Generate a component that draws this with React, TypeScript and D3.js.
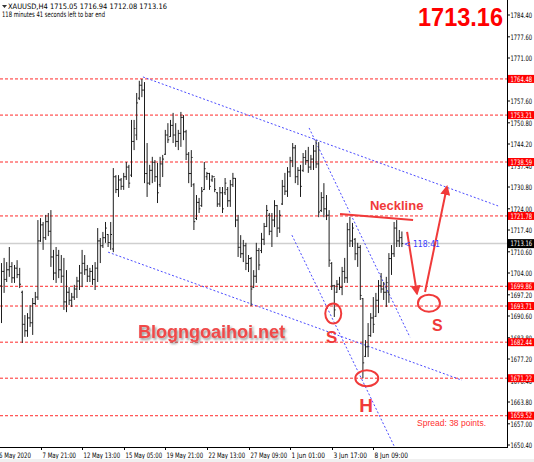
import React from "react";
import * as d3 from "d3";

// XAUUSD H4 bars, 6 May – 10 Jun 2020
const opens = [
  1700.0, 1704.5, 1702.0, 1705.0, 1706.0, 1702.5, 1705.5, 1703.5, 1698.0, 1688.0,
  1686.0, 1690.0, 1688.5, 1694.5, 1696.5, 1714.0, 1719.0, 1715.0, 1720.0, 1717.0,
  1709.0, 1704.0, 1709.5, 1705.0, 1703.0, 1695.0, 1698.0, 1695.5, 1696.5, 1699.0,
  1701.5, 1704.0, 1707.0, 1705.0, 1703.0, 1704.5, 1702.0, 1705.5, 1714.0, 1712.5,
  1715.0, 1716.0, 1713.5, 1711.5, 1734.0, 1730.0, 1733.0, 1731.0, 1734.0, 1737.0,
  1734.5, 1745.0, 1747.0, 1758.5, 1762.5, 1761.0, 1735.0, 1732.0, 1736.0, 1738.5,
  1734.0, 1731.5, 1738.0, 1741.0, 1747.0, 1746.5, 1750.0, 1747.0, 1745.0, 1747.5,
  1752.5, 1748.0, 1741.0, 1735.0, 1731.5, 1721.0, 1726.0, 1725.0, 1730.0, 1734.0,
  1735.0, 1733.0, 1734.0, 1729.0, 1725.5, 1729.0, 1729.0, 1730.0, 1726.5, 1731.5,
  1733.5, 1720.5, 1712.0, 1710.0, 1712.5, 1707.0, 1708.5, 1699.5, 1703.0, 1711.0,
  1711.0, 1714.5, 1718.5, 1722.0, 1717.0, 1720.5, 1725.0, 1718.0, 1725.5, 1731.0,
  1729.5, 1735.5, 1739.0, 1743.0, 1734.0, 1736.0, 1736.0, 1740.0, 1739.0, 1737.0,
  1739.5, 1742.0, 1738.0, 1723.5, 1727.5, 1724.0, 1722.0, 1707.0, 1700.0, 1698.0,
  1700.5, 1699.5, 1704.5, 1702.5, 1717.5, 1714.0, 1714.5, 1710.0, 1712.0, 1696.0,
  1678.0, 1681.0, 1684.5, 1690.0, 1690.5, 1695.5, 1700.0, 1699.0, 1698.0, 1698.0,
  1708.5, 1710.0, 1718.0, 1714.0, 1715.05,
];
const highs = [
  1707.1, 1708.7, 1707.4, 1712.1, 1707.4, 1706.5, 1708.0, 1705.6, 1698.5, 1690.9,
  1691.5, 1694.0, 1696.2, 1698.1, 1720.5, 1721.1, 1719.9, 1722.1, 1722.7, 1723.6,
  1711.2, 1712.1, 1711.2, 1709.6, 1708.7, 1704.9, 1699.6, 1697.8, 1700.3, 1702.8,
  1706.5, 1711.2, 1709.6, 1706.5, 1705.6, 1706.5, 1707.4, 1718.0, 1714.9, 1716.8,
  1719.9, 1716.1, 1719.9, 1736.7, 1734.5, 1734.5, 1733.6, 1735.2, 1738.6, 1737.7,
  1751.7, 1751.7, 1760.1, 1763.9, 1764.48, 1763.5, 1744.5, 1737.7, 1740.2, 1739.2,
  1738.3, 1740.2, 1740.8, 1748.6, 1750.7, 1751.7, 1753.9, 1750.7, 1748.6, 1754.2,
  1753.2, 1748.6, 1741.7, 1742.3, 1732.0, 1728.3, 1727.4, 1730.8, 1738.6, 1735.5,
  1735.2, 1734.5, 1733.6, 1729.2, 1730.8, 1730.8, 1733.6, 1730.8, 1733.0, 1735.2,
  1733.6, 1722.1, 1715.8, 1714.3, 1713.4, 1709.6, 1709.0, 1704.9, 1713.4, 1711.8,
  1716.5, 1719.6, 1725.2, 1722.7, 1722.7, 1726.7, 1725.2, 1723.6, 1733.0, 1735.2,
  1737.0, 1740.2, 1744.5, 1743.9, 1737.0, 1737.7, 1741.4, 1742.3, 1743.3, 1740.8,
  1743.9, 1745.4, 1744.8, 1729.2, 1732.0, 1728.3, 1723.6, 1707.4, 1700.3, 1701.8,
  1702.8, 1705.9, 1708.7, 1719.6, 1721.5, 1719.6, 1714.9, 1713.4, 1712.7, 1696.2,
  1683.1, 1688.4, 1691.5, 1696.5, 1697.8, 1701.8, 1704.0, 1701.2, 1702.8, 1710.2,
  1712.7, 1719.9, 1720.5, 1717.4, 1716.94,
];
const lows = [
  1688.4, 1697.8, 1701.2, 1702.8, 1700.9, 1700.9, 1702.4, 1699.3, 1682.2, 1684.1,
  1684.1, 1687.2, 1684.7, 1694.0, 1695.6, 1713.7, 1711.2, 1714.3, 1715.5, 1705.9,
  1701.8, 1700.9, 1702.4, 1700.9, 1692.5, 1691.8, 1694.0, 1693.4, 1695.6, 1696.2,
  1698.7, 1699.6, 1703.4, 1701.2, 1701.2, 1700.3, 1698.7, 1701.2, 1707.1, 1711.8,
  1713.4, 1712.1, 1711.2, 1710.5, 1728.9, 1727.7, 1729.9, 1729.9, 1733.0, 1730.5,
  1733.9, 1742.3, 1745.4, 1757.9, 1758.8, 1732.0, 1727.7, 1731.4, 1732.0, 1732.4,
  1725.8, 1730.8, 1733.9, 1740.8, 1744.5, 1746.4, 1744.5, 1743.3, 1742.3, 1743.3,
  1745.4, 1739.2, 1732.0, 1730.8, 1717.4, 1720.5, 1722.7, 1724.6, 1729.9, 1733.0,
  1729.9, 1732.4, 1729.2, 1724.6, 1724.6, 1722.7, 1728.3, 1724.6, 1724.6, 1730.8,
  1718.3, 1709.0, 1708.7, 1707.4, 1704.9, 1704.3, 1693.7, 1699.3, 1700.9, 1704.9,
  1710.2, 1712.7, 1718.3, 1715.8, 1712.1, 1718.3, 1715.2, 1716.5, 1725.2, 1728.3,
  1727.7, 1733.9, 1737.0, 1732.0, 1731.4, 1727.7, 1735.5, 1737.7, 1735.2, 1736.1,
  1736.1, 1736.7, 1721.4, 1723.0, 1721.4, 1720.5, 1705.9, 1698.7, 1690.3, 1697.8,
  1698.7, 1697.1, 1700.9, 1700.9, 1712.1, 1712.1, 1708.0, 1705.9, 1695.6, 1671.22,
  1677.8, 1677.8, 1684.1, 1685.3, 1690.3, 1691.5, 1697.8, 1695.6, 1693.4, 1694.7,
  1703.4, 1709.0, 1712.1, 1712.1, 1712.08,
];
const closes = [
  1704.5, 1702.0, 1705.0, 1706.0, 1702.5, 1705.5, 1703.5, 1700.5, 1688.0, 1686.0,
  1690.0, 1688.5, 1694.5, 1696.5, 1714.0, 1719.0, 1715.0, 1720.0, 1717.0, 1709.0,
  1704.0, 1709.5, 1705.0, 1703.0, 1695.0, 1698.0, 1695.5, 1696.5, 1699.0, 1701.5,
  1704.0, 1707.0, 1705.0, 1703.0, 1704.5, 1702.0, 1705.5, 1714.0, 1712.5, 1715.0,
  1718.0, 1713.5, 1716.0, 1734.0, 1730.0, 1733.0, 1731.0, 1734.0, 1737.0, 1732.0,
  1745.0, 1749.0, 1757.0, 1762.5, 1761.0, 1735.0, 1732.0, 1736.0, 1738.5, 1734.0,
  1729.0, 1738.0, 1739.5, 1747.0, 1745.5, 1750.0, 1747.0, 1745.0, 1747.5, 1752.5,
  1748.0, 1741.0, 1735.0, 1740.0, 1720.0, 1726.0, 1724.0, 1729.5, 1736.5, 1735.0,
  1731.0, 1734.0, 1730.0, 1725.5, 1729.0, 1724.0, 1732.0, 1726.5, 1731.5, 1733.5,
  1720.5, 1712.0, 1710.0, 1712.5, 1707.0, 1708.5, 1699.0, 1703.0, 1711.0, 1706.5,
  1714.5, 1718.5, 1723.5, 1717.0, 1720.5, 1725.0, 1718.0, 1722.0, 1731.0, 1729.5,
  1735.5, 1739.0, 1743.0, 1734.0, 1736.0, 1731.0, 1740.0, 1739.0, 1737.0, 1739.5,
  1742.0, 1738.0, 1723.0, 1727.5, 1724.0, 1722.0, 1708.0, 1700.0, 1692.5, 1700.5,
  1699.5, 1704.5, 1702.5, 1717.5, 1714.0, 1718.0, 1710.0, 1712.0, 1697.0, 1676.0,
  1681.0, 1684.5, 1690.0, 1688.0, 1695.5, 1700.0, 1699.0, 1698.0, 1701.0, 1708.5,
  1710.0, 1718.0, 1714.0, 1715.0, 1713.16,
];

// price scale ticks and horizontal levels
const priceTicks = [
  1784.4, 1777.6, 1771.0, 1764.2, 1757.6, 1750.8, 1744.2, 1737.4, 1730.8, 1724.0,
  1717.4, 1710.6, 1704.0, 1697.2, 1690.6, 1683.8, 1677.2, 1670.4, 1663.8, 1657.0, 1650.4,
];
const levels = [1764.48, 1753.21, 1738.59, 1721.78, 1699.86, 1693.71, 1682.44, 1671.22, 1659.52];
const lastPrice = 1713.16;

// time axis: bar index of each label
const timeLabels = [
  "7 May 21:00", "12 May 13:00", "15 May 05:00", "19 May 21:00", "22 May 13:00",
  "27 May 09:00", "1 Jun 01:00", "3 Jun 17:00", "8 Jun 09:00",
];
const timeLabelIdx = [15, 31, 47, 63, 79, 95, 111, 127, 143];

// trend lines as [barIndex, price] pairs
const channelLines: [number, number, number, number][] = [
  [54.4, 1765.1, 191.0, 1724.9],
  [41.0, 1710.5, 177.1, 1670.6],
  [118.3, 1749.2, 157.1, 1684.0],
  [111.7, 1715.8, 151.0, 1650.1],
];
const neckline: [number, number, number, number] = [130.2, 1722.4, 158.3, 1720.5];
const arrowsPath: [number, number, number, number][] = [
  [156.0, 1716.8, 159.8, 1697.6],
  [162.9, 1698.1, 171.3, 1730.8],
];
// pattern markers: [barIndex, price, rx, ry]
const rings: [number, number, number, number][] = [
  [127.6, 1691.4, 8, 10],
  [140.5, 1671.2, 11.5, 8],
  [164.4, 1694.6, 11, 8.5],
];
const ringLabels: [string, number, number, number][] = [
  ["S", 127.0, 1682.3, 17],
  ["H", 140.2, 1660.8, 19],
  ["S", 167.6, 1686.0, 16],
];

const W = 534;
const H = 462;
const plotRight = 507;
const plotBottom = 447;

const mt4Font = "Tahoma, 'DejaVu Sans', sans-serif";
const arial = "'Liberation Sans', Arial, sans-serif";

export default function App() {
  const n = opens.length;
  const x = d3.scaleLinear().domain([0, n - 1]).range([1.5, 1.5 + 2.6 * (n - 1)]);
  const y = d3.scaleLinear().domain([1650.4, 1784.4]).range([445, 15]);
  const fmt = d3.format(".2f");
  const red = "#f03a3a";
  // axis ticks fully hidden behind a level tag are skipped
  const visibleTicks = priceTicks.filter((v) => levels.every((l) => Math.abs(y(l) - y(v)) > 2.5));

  return (
    <svg
      width={W}
      height={H}
      style={{ position: "absolute", left: 0, top: 0, background: "#fff" }}
    >
      <defs>
        <filter id="wm" x="-10%" y="-30%" width="130%" height="180%">
          <feDropShadow dx="1.5" dy="2" stdDeviation="1.2" floodColor="#444" floodOpacity="0.55" />
        </filter>
        <marker id="ah" viewBox="0 0 10 10" refX="8" refY="5" markerWidth="5" markerHeight="5" orient="auto">
          <path d="M0,0 L10,5 L0,10 z" fill={red} />
        </marker>
      </defs>
      <rect x={0} y={0} width={W} height={H} fill="#fff" />

      {/* horizontal levels */}
      {levels.map((v) => (
        <line key={v} x1={0} x2={plotRight} y1={y(v)} y2={y(v)} stroke="#ff2a2a" strokeWidth={1} strokeDasharray="3,2" />
      ))}
      {/* last price line */}
      <line x1={0} x2={plotRight} y1={y(lastPrice)} y2={y(lastPrice)} stroke="#cfcfcf" strokeWidth={1.5} />

      {/* channel lines */}
      {channelLines.map((l, k) => (
        <line key={k} x1={x(l[0])} y1={y(l[1])} x2={x(l[2])} y2={y(l[3])} stroke="#4b4bff" strokeWidth={1} strokeDasharray="2,2" />
      ))}

      {/* OHLC bars */}
      <g stroke="#1e1e1e" strokeWidth={1}>
        {opens.map((o, i) => {
          const cx = x(i);
          return (
            <g key={i}>
              <line x1={cx} x2={cx} y1={y(highs[i])} y2={y(lows[i])} />
              <line x1={cx - 1.3} x2={cx} y1={y(o)} y2={y(o)} />
              <line x1={cx} x2={cx + 1.3} y1={y(closes[i])} y2={y(closes[i])} />
            </g>
          );
        })}
      </g>

      {/* pattern annotation */}
      <line x1={x(neckline[0])} y1={y(neckline[1])} x2={x(neckline[2])} y2={y(neckline[3])} stroke={red} strokeWidth={2} />
      <text x={x(141.7)} y={y(1723.6)} fill={red} fontFamily={arial} fontWeight="bold" fontSize={13}>
        Neckline
      </text>
      {arrowsPath.map((a, k) => (
        <line key={k} x1={x(a[0])} y1={y(a[1])} x2={x(a[2])} y2={y(a[3])} stroke={red} strokeWidth={2} markerEnd="url(#ah)" />
      ))}
      {rings.map((r, k) => (
        <ellipse key={k} cx={x(r[0])} cy={y(r[1])} rx={r[2]} ry={r[3]} fill="none" stroke={red} strokeWidth={2} />
      ))}
      {ringLabels.map((t, k) => (
        <text key={k} x={x(t[1])} y={y(t[2])} textAnchor="middle" fill={red} fontFamily={arial} fontWeight="bold" fontSize={t[3]}>
          {t[0]}
        </text>
      ))}

      <text x={138} y={338} fill="#f04848" fontFamily={arial} fontWeight="bold" fontSize={18} filter="url(#wm)">
        Blogngoaihoi.net
      </text>

      <text x={404} y={y(lastPrice) + 3} fill="#3b3bff" fontFamily={mt4Font} fontSize={8} textLength={36} lengthAdjust="spacingAndGlyphs">
        {"< 118:41"}
      </text>

      <text x={417} y={426} fill="#ff3030" fontFamily={arial} fontSize={8.5} textLength={69} lengthAdjust="spacingAndGlyphs">
        Spread: 38 points.
      </text>

      {/* header */}
      <path d="M2,5 L7,5 L4.5,8 z" fill="#333" />
      <text x={8} y={8.5} fill="#000" fontFamily={mt4Font} fontSize={7.5} textLength={159} lengthAdjust="spacingAndGlyphs">
        {"XAUUSD,H4  1715.05 1716.94 1712.08 1713.16"}
      </text>
      <text x={2} y={17.3} fill="#000" fontFamily={mt4Font} fontSize={7.5} textLength={103} lengthAdjust="spacingAndGlyphs">
        118 minutes 41 seconds left to bar end
      </text>
      <text x={418} y={26} fill="#ff0000" fontFamily={arial} fontWeight="bold" fontSize={26} textLength={85} lengthAdjust="spacingAndGlyphs">
        {fmt(lastPrice)}
      </text>

      {/* price axis */}
      <line x1={plotRight + 0.5} x2={plotRight + 0.5} y1={0} y2={plotBottom} stroke="#000" strokeWidth={1} />
      {visibleTicks.map((v) => (
        <g key={v}>
          <line x1={plotRight} x2={plotRight + 3} y1={y(v)} y2={y(v)} stroke="#000" />
          <text x={510.5} y={y(v) + 2.7} fontFamily={mt4Font} fontSize={7.5} fill="#000" textLength={21.5} lengthAdjust="spacingAndGlyphs">
            {fmt(v)}
          </text>
        </g>
      ))}
      {levels.map((v) => (
        <g key={v}>
          <rect x={508} y={y(v) - 4} width={W - 508} height={8} fill="#ff0000" />
          <text x={510.5} y={y(v) + 2.7} fontFamily={mt4Font} fontSize={7.5} fill="#fff" textLength={21.5} lengthAdjust="spacingAndGlyphs">
            {fmt(v)}
          </text>
        </g>
      ))}
      <rect x={508} y={y(lastPrice) - 4.5} width={W - 508} height={9} fill="#000" />
      <text x={510.5} y={y(lastPrice) + 2.7} fontFamily={mt4Font} fontSize={7.5} fill="#fff" textLength={21.5} lengthAdjust="spacingAndGlyphs">
        {fmt(lastPrice)}
      </text>

      {/* time axis */}
      <line x1={0} x2={plotRight + 1} y1={plotBottom + 0.5} y2={plotBottom + 0.5} stroke="#000" />
      <text x={-1} y={457.5} fontFamily={mt4Font} fontSize={7.5} fill="#000" textLength={32} lengthAdjust="spacingAndGlyphs">
        6 May 2020
      </text>
      {timeLabels.map((t, k) => {
        const tx = Math.round(x(timeLabelIdx[k])) + 0.5;
        return (
          <g key={t}>
            <line x1={tx} x2={tx} y1={plotBottom} y2={plotBottom + 3} stroke="#000" />
            <text x={tx + 1} y={457.5} fontFamily={mt4Font} fontSize={7.5} fill="#000" textLength={t.length * 3.05} lengthAdjust="spacingAndGlyphs">
              {t}
            </text>
          </g>
        );
      })}
      <rect x={0} y={459} width={W} height={3} fill="#f0f0f0" />
    </svg>
  );
}
